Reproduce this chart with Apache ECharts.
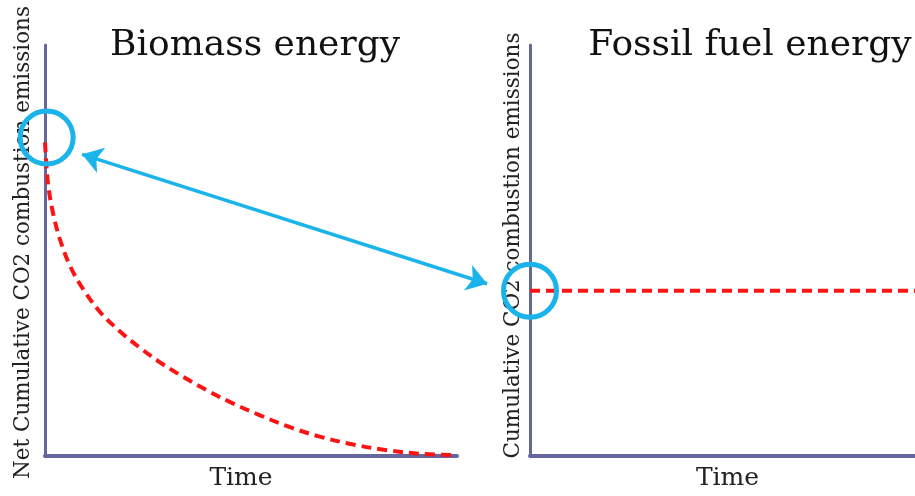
<!DOCTYPE html>
<html>
<head>
<meta charset="utf-8">
<script src="https://cdn.jsdelivr.net/npm/echarts@6/dist/echarts.min.js"></script>
<style>html,body{margin:0;padding:0;background:#fff}#c{width:915px;height:496px}</style>
</head>
<body>
<div id="c"></div>
<script>
// Biomass: net cumulative CO2, time 0..100, value 0..100
var biomassTime   = [0, 0.7, 1.9, 3.6, 6.1, 9.2, 13.3, 18.2, 23.1, 27.9, 32.8, 39.3, 45.6, 52.2, 59.5, 66.7, 74.8, 83.0, 91.7, 100];
var biomassValues = [76.3, 66.6, 59.3, 52.8, 46.2, 40.7, 35.1, 30.3, 26.3, 22.8, 19.7, 16.0, 12.8, 9.9, 7.0, 4.7, 2.8, 1.4, 0.5, 0.2];
// Fossil: flat cumulative CO2
var fossilTime   = [0, 100];
var fossilValues = [40.2, 40.2];
// Highlight circles and the connecting arrow (data coords)
var biomassMark = [0.4, 77.5];
var fossilMark  = [0, 40.2];
var arrowFrom = [9.0, 73.4];
var arrowTo   = [107.3, 41.9];
var titles = ['Biomass energy', 'Fossil fuel energy'];
var yNames = ['Net Cumulative CO2 combustion emissions', 'Cumulative CO2 combustion emissions'];
var xName = 'Time';

var axisColor = '#66669e';
var red = '#fa1414';
var blue = '#1ab4ea';
var font = 'DejaVu Serif';

function xAx(idx, padding) {
  return {
    type: 'value', gridIndex: idx, min: 0, max: 100,
    axisLine: {show: true, lineStyle: {color: axisColor, width: 4}},
    axisTick: {show: false}, axisLabel: {show: false}, splitLine: {show: false},
    name: xName, nameLocation: 'middle', nameGap: 10,
    nameTextStyle: {fontFamily: font, fontSize: 25, color: '#222', padding: padding}
  };
}
function yAx(idx, name, gap, padding) {
  return {
    type: 'value', gridIndex: idx, min: 0, max: 100,
    axisLine: {show: true, lineStyle: {color: axisColor, width: 3}},
    axisTick: {show: false}, axisLabel: {show: false}, splitLine: {show: false},
    name: name, nameLocation: 'middle', nameGap: gap,
    nameTextStyle: {fontFamily: font, fontSize: 21.5, color: '#222', padding: padding}
  };
}

var chart = echarts.init(document.getElementById('c'), null, {renderer: 'canvas'});
chart.setOption({
  backgroundColor: '#fff',
  animation: false,
  title: [
    {text: titles[0], left: 250, top: 23, textAlign: 'center',
     textStyle: {fontFamily: font, fontSize: 36, fontWeight: 'normal', color: '#111'}},
    {text: titles[1], left: 745, top: 23, textAlign: 'center',
     textStyle: {fontFamily: font, fontSize: 36, fontWeight: 'normal', color: '#111'}}
  ],
  grid: [
    {left: 45, top: 45, width: 412, height: 413},
    {left: 530, top: 45, right: 0, height: 413}
  ],
  xAxis: [xAx(0, [0, 20, 0, 0]), xAx(1, [0, 0, 0, 10])],
  yAxis: [yAx(0, yNames[0], 11, [0, 0, 0, 16]), yAx(1, yNames[1], 6, [0, 0, 0, 10])],
  series: [
    {
      type: 'line', xAxisIndex: 0, yAxisIndex: 0, smooth: 0.35, showSymbol: false,
      data: biomassTime.map(function (t, i) { return [t, biomassValues[i]]; }),
      lineStyle: {color: red, width: 4, type: [10, 6]}, z: 3
    },
    {
      type: 'line', xAxisIndex: 1, yAxisIndex: 1, showSymbol: false,
      data: fossilTime.map(function (t, i) { return [t, fossilValues[i]]; }),
      lineStyle: {color: red, width: 4, type: [10, 6]}, z: 3
    },
    {
      type: 'scatter', xAxisIndex: 0, yAxisIndex: 0, clip: false,
      data: [biomassMark], symbol: 'circle', symbolSize: 53,
      itemStyle: {color: 'rgba(0,0,0,0)', borderColor: blue, borderWidth: 5, opacity: 1}, z: 5
    },
    {
      type: 'scatter', xAxisIndex: 1, yAxisIndex: 1, clip: false,
      data: [fossilMark], symbol: 'circle', symbolSize: 53,
      itemStyle: {color: 'rgba(0,0,0,0)', borderColor: blue, borderWidth: 5, opacity: 1}, z: 5
    },
    {
      type: 'lines', coordinateSystem: 'cartesian2d', xAxisIndex: 0, yAxisIndex: 0, clip: false,
      symbol: ['arrow', 'arrow'], symbolSize: 20,
      data: [{coords: [arrowFrom, arrowTo]}],
      lineStyle: {color: blue, width: 3.5, opacity: 1}, z: 5
    }
  ]
});
</script>
</body>
</html>
